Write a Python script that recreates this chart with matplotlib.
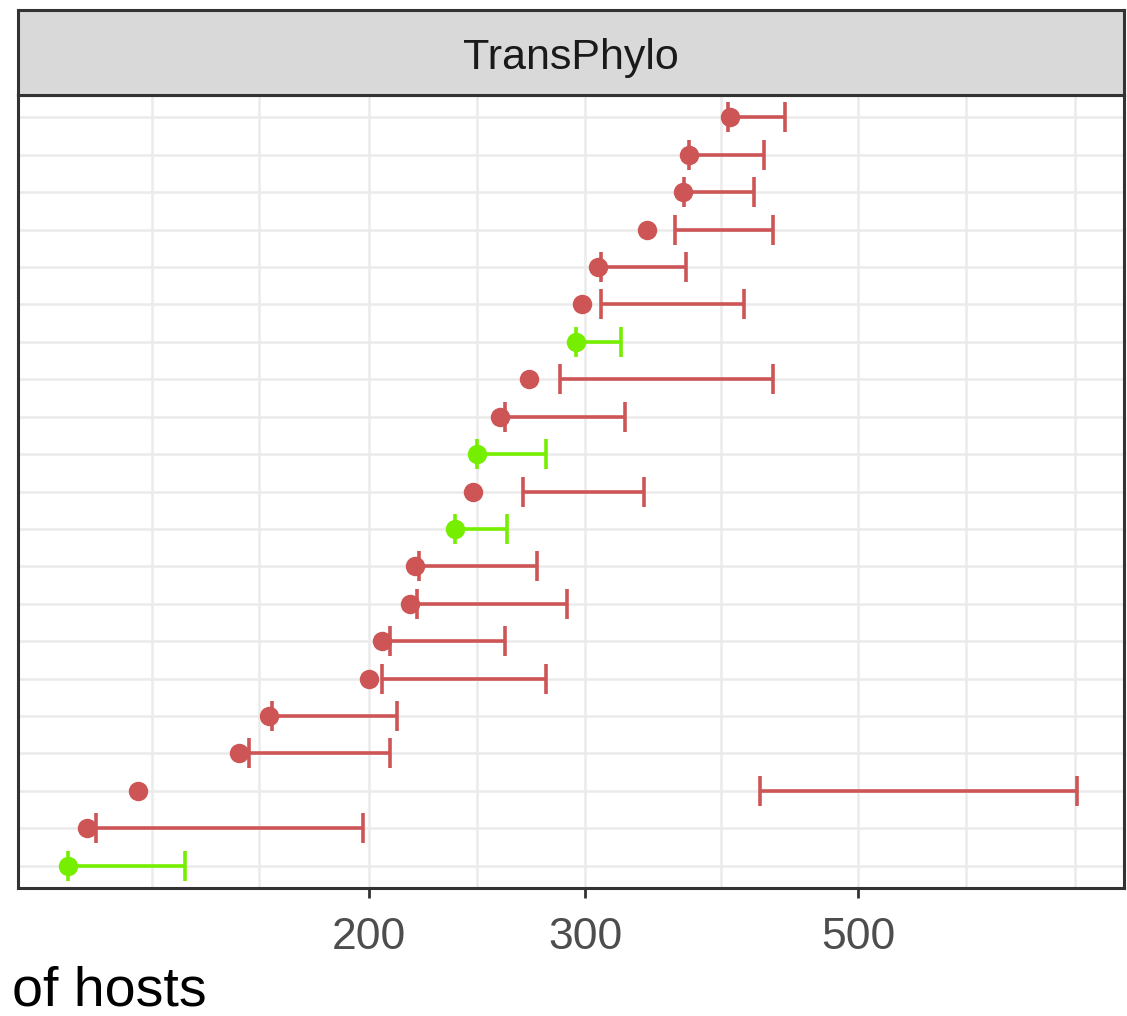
import matplotlib
matplotlib.use("Agg")
import matplotlib.pyplot as plt
from matplotlib.ticker import FixedLocator, NullLocator, FixedFormatter

plt.rcParams['font.family'] = ['Liberation Sans', 'DejaVu Sans']

# estimates and intervals, bottom row first
estimate = [114, 118, 130, 157, 166, 200, 205, 216, 218, 235, 243,
            245, 256, 270, 295, 298, 307, 337, 360, 364, 393]
ci_low = [114, 120, 416, 160, 167, 205, 208, 219, 220, 235, 267,
          245, 258, 286, 295, 309, 309, 355, 361, 364, 392]
ci_high = [142, 198, 753, 208, 211, 279, 258, 290, 274, 259, 335,
           279, 323, 426, 321, 404, 362, 426, 411, 419, 436]
group = ['g', 'r', 'r', 'r', 'r', 'r', 'r', 'r', 'r', 'g', 'r',
         'g', 'r', 'r', 'g', 'r', 'r', 'r', 'r', 'r', 'r']

x_ticks = [200, 300, 500]
x_grid = [133.3, 163, 200, 245, 300, 387, 500, 612, 750]

colours = {'r': '#CD5555', 'g': '#76EE00'}

W, H = 1127, 1016
fig = plt.figure(figsize=(W / 100, H / 100), dpi=100)

# panel
left, right = 18 / W, 1124 / W
bottom, top = 1 - 888 / H, 1 - 95 / H
ax = fig.add_axes([left, bottom, right - left, top - bottom])
ax.set_facecolor('white')
ax.set_xscale('log')
ax.set_xlim(103.8, 822)
ax.set_ylim(0.4, len(estimate) + 0.6)

rows = list(range(1, len(estimate) + 1))
for xv in x_grid:
    ax.axvline(xv, color='#EBEBEB', lw=1.8, zorder=0)
for r in rows:
    ax.axhline(r, color='#EBEBEB', lw=1.8, zorder=0)

for r, e, lo, hi, g in zip(rows, estimate, ci_low, ci_high, group):
    c = colours[g]
    ax.errorbar([lo], [r], xerr=[[0], [hi - lo]], fmt='none', ecolor=c,
                elinewidth=2.6, capsize=10.5, capthick=2.6, zorder=2)
    ax.plot([e], [r], 'o', color=c, markersize=14, markeredgewidth=0, zorder=3)

ax.xaxis.set_major_locator(FixedLocator(x_ticks))
ax.xaxis.set_major_formatter(FixedFormatter([str(t) for t in x_ticks]))
ax.xaxis.set_minor_locator(NullLocator())
ax.set_yticks([])
ax.tick_params(axis='x', length=7, width=2, color='#333333', pad=14,
               labelsize=32, labelcolor='#4D4D4D')
for s in ax.spines.values():
    s.set_color('#333333')
    s.set_linewidth(2.2)

# facet strip
strip_top = 1 - 10 / H
sax = fig.add_axes([left, top, right - left, strip_top - top])
sax.set_facecolor('#D9D9D9')
sax.set_xticks([])
sax.set_yticks([])
for s in sax.spines.values():
    s.set_color('#333333')
    s.set_linewidth(2.2)
sax.text(0.5, 0.44, 'TransPhylo', ha='center', va='center', fontsize=31,
         color='#1A1A1A', transform=sax.transAxes)

fig.text(12 / W, 1 - 1005 / H, 'of hosts', ha='left', va='baseline',
         fontsize=40, color='black')

fig.savefig('out.png', dpi=100)
